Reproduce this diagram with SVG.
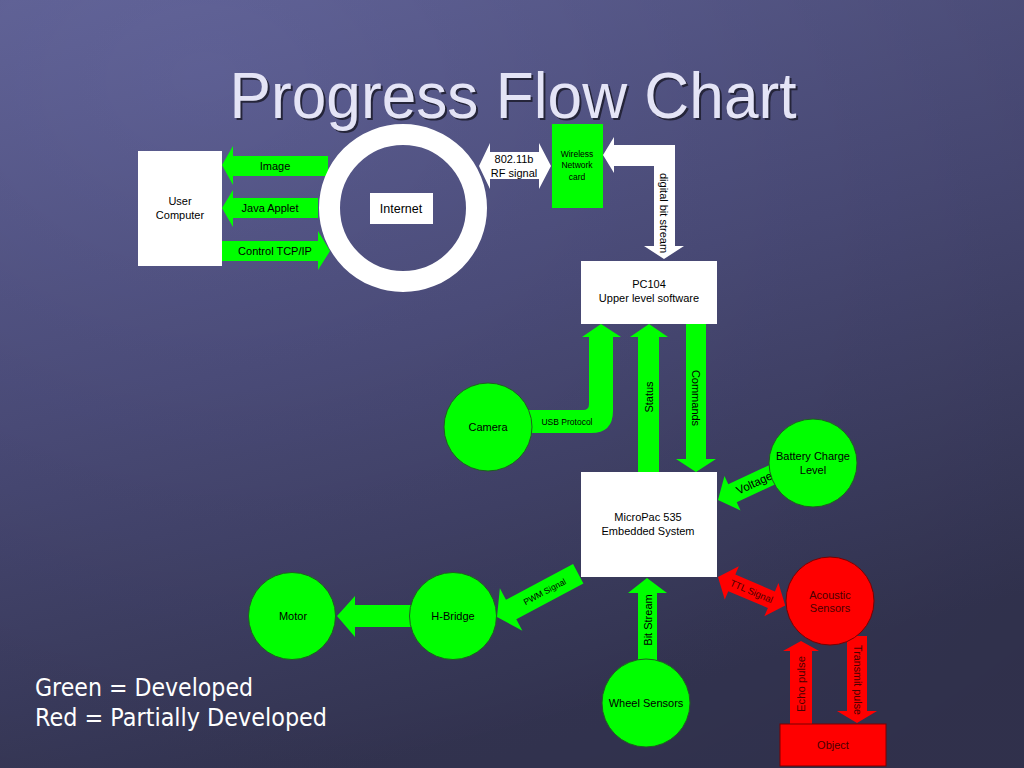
<svg xmlns="http://www.w3.org/2000/svg" width="1024" height="768" viewBox="0 0 1024 768">
<defs>
<linearGradient id="bg" x1="0" y1="0" x2="0.35" y2="1">
<stop offset="0" stop-color="#63659b"/>
<stop offset="0.5" stop-color="#4f5080"/>
<stop offset="1" stop-color="#3a3b5c"/>
</linearGradient>
<radialGradient id="vig" cx="0.2" cy="0.1" r="1.1">
<stop offset="0" stop-color="#000" stop-opacity="0"/>
<stop offset="1" stop-color="#000" stop-opacity="0.18"/>
</radialGradient>
<style>
.t{font-family:"Liberation Sans",Arial,sans-serif;fill:#000;text-anchor:middle}
.s11{font-size:11px}
.s9{font-size:8.5px}
.s10{font-size:10px}
.g{fill:#00ff00}
.gc{fill:#00ff00;stroke:#1f5f1f;stroke-width:1}
.r{fill:#ff0000}
.rc{fill:#ff0000;stroke:#7a0000;stroke-width:1}
.w{fill:#ffffff}
.rt{fill:#4a0000}
</style>
</defs>
<rect width="1024" height="768" fill="url(#bg)"/>
<rect width="1024" height="768" fill="url(#vig)"/>
<text x="515" y="120" font-family="Liberation Sans,Arial,sans-serif" font-size="64" fill="#25253a" text-anchor="middle" textLength="567" lengthAdjust="spacingAndGlyphs">Progress Flow Chart</text>
<text x="513" y="118" font-family="Liberation Sans,Arial,sans-serif" font-size="64" fill="#e4e4f6" text-anchor="middle" textLength="567" lengthAdjust="spacingAndGlyphs">Progress Flow Chart</text>

<g id="connectors">
<g id="c-image"><path class="g" d="M222,165 L233,146 L233,156 L328,156 L328,176 L233,176 L233,185 Z"/><text class="t s11" x="275" y="170">Image</text></g>
<g id="c-java"><path class="g" d="M222,208 L233,190 L233,198 L318,198 L318,218 L233,218 L233,227 Z"/><text class="t s11" x="270" y="212">Java Applet</text></g>
<g id="c-control"><path class="g" d="M222,241 L318,241 L318,231 L330,251 L318,270 L318,261 L222,261 Z"/><text class="t s11" x="275" y="255">Control TCP/IP</text></g>
<g id="c-rf"><path class="w" d="M479,166 L490,143 L490,152 L539,152 L539,143 L551,166 L539,189 L539,179 L490,179 L490,189 Z"/><text class="t s11" x="514" y="163">802.11b</text><text class="t s11" x="514" y="177">RF signal</text></g>
<g id="c-digital"><path class="w" d="M603,155 L614,137 L614,145 L675,145 L675,246 L684,246 L664,259 L644,246 L654,246 L654,166 L614,166 L614,173 Z"/><text class="t s11" transform="translate(660,213) rotate(90)">digital bit stream</text></g>
<g id="c-usb"><path class="g" d="M526,410 L583,410 Q589,410 589,404 L589,337 L582,337 L601,324 L621,337 L613,337 L613,411 Q613,433 591,433 L526,433 Z"/><text class="t s9" x="567" y="425">USB Protocol</text></g>
<g id="c-status"><path class="g" d="M638,472 L638,337 L630,337 L649,324 L668,337 L659,337 L659,472 Z"/><text class="t s11" transform="translate(652.5,397) rotate(-90)">Status</text></g>
<g id="c-commands"><path class="g" d="M686,324 L706,324 L706,459 L716,459 L696,472 L676,459 L686,459 Z"/><text class="t s11" transform="translate(692,398) rotate(90)">Commands</text></g>
<g id="c-voltage" transform="translate(718,500) rotate(-25)"><path class="g" d="M0,0 L16,-19 L16,-10 L64,-10 L64,10 L16,10 L16,19 Z"/><text class="t" font-size="11.5" x="40" y="4">Voltage</text></g>
<g id="c-pwm" transform="translate(497,617) rotate(-28)"><path class="g" d="M0,0 L16,-24 L16,-11 L92,-11 L92,11 L16,11 L16,24 Z"/><text class="t s9" x="54" y="3">PWM Signal</text></g>
<g id="c-motor"><path class="g" d="M412,605 L355,605 L355,596 L337,616 L355,637 L355,627 L412,627 Z"/></g>
<g id="c-bit"><path class="g" d="M638,662 L638,593 L628,593 L647,578 L667,593 L657,593 L657,662 Z"/><text class="t s11" transform="translate(651.5,620) rotate(-90)">Bit Stream</text></g>
<g id="c-ttl" transform="translate(718,577) rotate(23)"><path class="r" d="M0,0 L15,-18 L15,-9 L58,-9 L58,-18 L73,0 L58,18 L58,9 L15,9 L15,18 Z"/><text class="t rt" font-size="9.5" x="36.5" y="3.5">TTL Signal</text></g>
<g id="c-echo"><path class="r" d="M790,724 L790,651 L783,651 L801,641 L819,651 L812,651 L812,724 Z"/><text class="t s10 rt" transform="translate(804.5,684) rotate(-90)" textLength="56" lengthAdjust="spacingAndGlyphs">Echo pulse</text></g>
<g id="c-transmit"><path class="r" d="M847,636 L867,636 L867,711 L877,711 L857,723 L837,711 L847,711 Z"/><text class="t s10 rt" transform="translate(853.5,680) rotate(90)" textLength="70" lengthAdjust="spacingAndGlyphs">Transmit pulse</text></g>
</g>

<g id="user-computer"><rect class="w" x="138" y="151" width="84" height="115"/><text class="t s11" x="180" y="205">User</text><text class="t s11" x="180" y="219">Computer</text></g>
<g id="internet"><circle cx="403" cy="208" r="73.5" fill="none" stroke="#fff" stroke-width="21"/><rect class="w" x="370" y="193" width="63" height="31"/><text class="t" font-size="12.5" x="401" y="213">Internet</text></g>
<g id="wireless"><rect class="g" x="552" y="124" width="51" height="84"/><text class="t s9" x="577" y="157">Wireless</text><text class="t s9" x="577" y="168">Network</text><text class="t s9" x="577" y="180">card</text></g>
<g id="pc104"><rect class="w" x="581" y="261" width="136" height="63"/><text class="t s11" x="649" y="288">PC104</text><text class="t s11" x="649" y="302">Upper level software</text></g>
<g id="camera"><circle class="gc" cx="488" cy="427" r="44"/><text class="t s11" x="488" y="431">Camera</text></g>
<g id="battery"><circle class="gc" cx="813" cy="463" r="44"/><text class="t s11" x="813" y="460">Battery Charge</text><text class="t s11" x="813" y="474">Level</text></g>
<g id="micropac"><rect class="w" x="581" y="472" width="136" height="105"/><text class="t s11" x="648" y="521">MicroPac 535</text><text class="t s11" x="648" y="535">Embedded System</text></g>
<g id="motor"><circle class="gc" cx="292" cy="616" r="43.5"/><text class="t s11" x="293" y="620">Motor</text></g>
<g id="hbridge"><circle class="gc" cx="453" cy="616" r="43.5"/><text class="t s11" x="453" y="620">H-Bridge</text></g>
<g id="wheel"><circle class="gc" cx="646" cy="703" r="44"/><text class="t s11" x="646" y="707">Wheel Sensors</text></g>
<g id="acoustic"><circle class="rc" cx="830" cy="601" r="44"/><text class="t s11 rt" x="830" y="599">Acoustic</text><text class="t s11 rt" x="830" y="612">Sensors</text></g>
<g id="object"><rect class="rc" x="780" y="724" width="106" height="42"/><text class="t s11 rt" x="833" y="749">Object</text></g>

<g id="legend" font-family="DejaVu Sans,Verdana,sans-serif" font-size="25" fill="#ffffff">
<text x="35" y="696" textLength="218" lengthAdjust="spacingAndGlyphs">Green = Developed</text>
<text x="35" y="726" textLength="292" lengthAdjust="spacingAndGlyphs">Red = Partially Developed</text>
</g>
</svg>
